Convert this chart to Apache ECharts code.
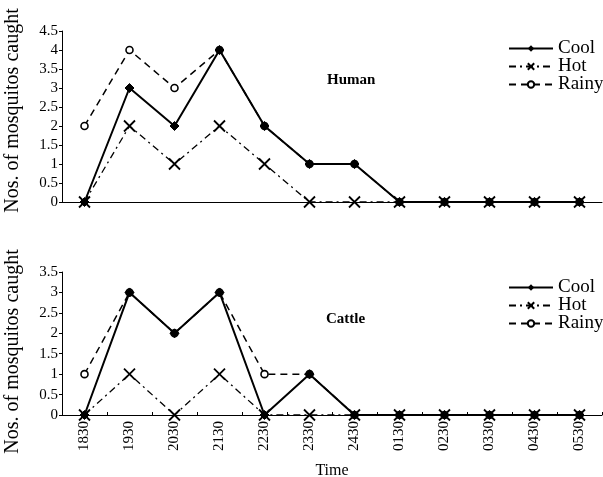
<!DOCTYPE html>
<html><head><meta charset="utf-8">
<script src="https://cdn.jsdelivr.net/npm/echarts@6/dist/echarts.min.js"></script>
<style>html,body{margin:0;padding:0;background:#fff}#c{width:603px;height:477px}</style>
</head><body><div id="c"></div>
<script>
const categories = ['1830','1930','2030','2130','2230','2330','2430','0130','0230','0330','0430','0530'];
const humanCool  = [0,3,2,4,2,1,1,0,0,0,0,0];
const humanHot   = [0,2,1,2,1,0,0,0,0,0,0,0];
const humanRainy = [2,4,3,4,2,1,1,0,0,0,0,0];
const cattleCool  = [0,3,2,3,0,1,0,0,0,0,0,0];
const cattleHot   = [0,1,0,1,0,0,0,0,0,0,0,0];
const cattleRainy = [1,3,2,3,1,1,0,0,0,0,0,0];
const seriesNames = ['Cool','Hot','Rainy'];

const FONT = '"Liberation Serif", "DejaVu Serif", serif';
const crossPath = 'path://M0,0L10,10M10,0L0,10';

function mk(name, data, idx) {
  const base = {name, type:'line', data, xAxisIndex:idx, yAxisIndex:idx, animation:false, showAllSymbol:true};
  if (name === 'Cool') return Object.assign(base, {
    symbol:'diamond', symbolSize:9, z:5,
    lineStyle:{color:'#000', width:2, type:'solid'},
    itemStyle:{color:'#000', borderColor:'#000'}
  });
  if (name === 'Hot') return Object.assign(base, {
    symbol:crossPath, symbolSize:11, z:3,
    lineStyle:{color:'#000', width:1.3, type:[7,4,2,4]},
    itemStyle:{color:'#000', borderColor:'#000', borderWidth:1.8}
  });
  return Object.assign(base, {
    symbol:'circle', symbolSize:7, z:4,
    lineStyle:{color:'#000', width:1.5, type:[7,5]},
    itemStyle:{color:'#fff', borderColor:'#000', borderWidth:1.6}
  });
}

function yAx(max, idx, pad) {
  return {type:'value', gridIndex:idx, min:0, max:max, interval:0.5,
    name:'Nos. of mosquitos caught', nameLocation:'middle', nameGap:39,
    nameTextStyle:{fontFamily:FONT, fontSize:20, color:'#000', padding:pad},
    axisLine:{show:true, lineStyle:{color:'#000', width:1}},
    axisTick:{show:true, length:3, lineStyle:{color:'#000'}},
    axisLabel:{fontFamily:FONT, fontSize:15, color:'#000', margin:4},
    splitLine:{show:false}};
}

const legendText = {fontFamily:FONT, fontSize:19, color:'#000'};

const chart = echarts.init(document.getElementById('c'), null, {renderer:'canvas'});
chart.setOption({
  backgroundColor:'#fff',
  animation:false,
  title:[
    {text:'Human', left:322, top:68, textStyle:{fontFamily:FONT, fontSize:15, fontWeight:'bold', color:'#000'}},
    {text:'Cattle', left:321, top:307, textStyle:{fontFamily:FONT, fontSize:15, fontWeight:'bold', color:'#000'}}
  ],
  legend:[
    {data:seriesNames, orient:'vertical', left:503, top:34, itemWidth:44, itemHeight:8, itemGap:-1,
     textStyle:legendText, selectedMode:false},
    {data:seriesNames, orient:'vertical', left:503, top:273, itemWidth:44, itemHeight:8, itemGap:-1,
     textStyle:legendText, selectedMode:false}
  ],
  grid:[
    {left:62, top:31, width:540, height:171, outerBoundsMode:'none', containLabel:false},
    {left:62, top:272, width:540, height:143, outerBoundsMode:'none', containLabel:false}
  ],
  xAxis:[
    {type:'category', gridIndex:0, data:categories, boundaryGap:true,
     axisLine:{show:true, lineStyle:{color:'#000', width:1}},
     axisTick:{show:false}, axisLabel:{show:false}},
    {type:'category', gridIndex:1, data:categories, boundaryGap:true,
     name:'Time', nameLocation:'middle', nameGap:48,
     nameTextStyle:{fontFamily:FONT, fontSize:16, color:'#000'},
     axisLine:{show:true, lineStyle:{color:'#000', width:1}},
     axisTick:{show:true, inside:true, length:3, lineStyle:{color:'#000'}},
     axisLabel:{rotate:90, fontFamily:FONT, fontSize:15, color:'#000', margin:6}}
  ],
  yAxis:[yAx(4.5,0,[0,0,0,12]), yAx(3.5,1,[0,16,0,0])],
  series:[
    mk('Cool', humanCool, 0), mk('Hot', humanHot, 0), mk('Rainy', humanRainy, 0),
    mk('Cool', cattleCool, 1), mk('Hot', cattleHot, 1), mk('Rainy', cattleRainy, 1)
  ]
});
</script></body></html>
